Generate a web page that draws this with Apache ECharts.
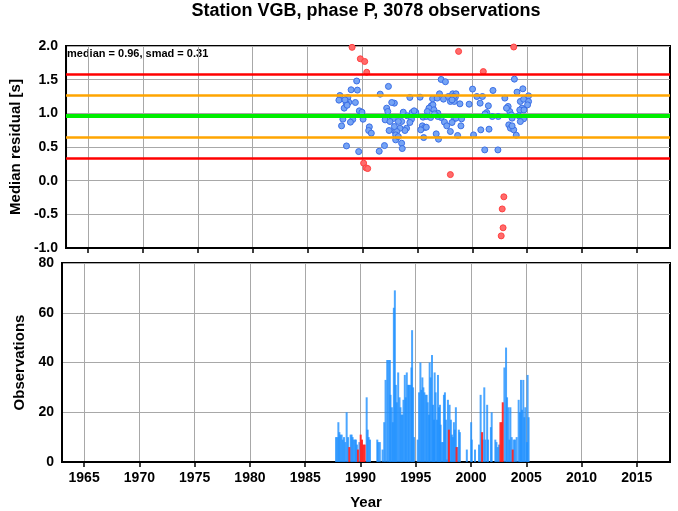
<!DOCTYPE html>
<html><head><meta charset="utf-8">
<script src="https://cdn.jsdelivr.net/npm/echarts@6/dist/echarts.min.js"></script>
<style>html,body{margin:0;padding:0;background:#fff}#c{width:678px;height:511px}</style>
</head><body><div id="c"></div><script>
const chartTitle = 'Station VGB, phase P, 3078 observations';
const median = 0.96;
const smad = 0.31;
const yearTicks = [1965, 1970, 1975, 1980, 1985, 1990, 1995, 2000, 2005, 2010, 2015];
const residualTicks = [-1.0, -0.5, 0.0, 0.5, 1.0, 1.5, 2.0];
const obsTicks = [0, 20, 40, 60, 80];

// [year, median residual]
const residualPoints = [
 [1989.05,1.98],[1989.80,1.81],[1990.20,1.77],[1990.38,1.61],[1990.10,0.26],[1990.32,0.19],[1990.47,0.18],
 [1998.0,0.09],[1998.75,1.92],[2001.0,1.62],[2003.77,1.985],[2002.87,-0.24],[2002.72,-0.42],[2002.80,-0.70],[2002.63,-0.82],
 [1989.47,1.48],[1992.36,1.40],[1988.96,1.35],[1989.53,1.345],[1991.61,1.285],[1987.94,1.265],[1987.85,1.196],[1988.66,1.236],
 [1988.75,1.166],[1988.51,1.151],[1988.33,1.077],[1989.35,1.161],[1992.90,1.151],[1992.66,1.161],[1992.20,1.077],[1992.30,1.027],
 [1989.71,1.037],[1989.95,1.017],[1988.21,0.913],[1989.11,0.908],[1988.90,0.869],[1990.05,0.913],[1988.09,0.814],[1992.06,0.903],
 [1992.80,0.923],[1992.50,0.879],[1990.62,0.799],[1990.56,0.745],[1990.80,0.705],[1992.42,0.745],[1992.96,0.73],[1993.02,0.606],
 [1988.54,0.516],[1992.0,0.521],[1989.65,0.432],[1991.52,0.437],[1988.40,1.20],[1988.60,1.12],
 [1997.16,1.503],[1997.55,1.469],[1994.31,1.236],[1995.24,1.24],[1996.38,1.216],[1996.80,1.226],[1997.01,1.29],[1997.37,1.211],
 [1997.82,1.25],[1998.21,1.29],[1998.0,1.176],[1998.36,1.176],[1998.45,1.24],[1996.26,1.112],[1996.41,1.126],[1996.05,1.077],
 [1996.50,1.052],[1993.71,1.017],[1994.07,0.963],[1994.52,1.013],[1994.85,1.017],[1994.70,1.037],[1995.90,1.027],[1995.51,0.943],
 [1995.81,0.953],[1996.20,0.938],[1996.86,1.002],[1997.16,0.938],[1996.56,0.992],[1998.36,0.923],[1994.46,0.913],[1994.31,0.864],
 [1993.56,0.879],[1993.26,0.879],[1994.01,0.779],[1993.86,0.745],[1993.41,0.779],[1993.11,0.73],[1993.02,0.68],[1993.26,0.655],
 [1993.56,0.556],[1993.62,0.477],[1992.90,0.804],[1995.45,0.814],[1995.66,0.789],[1995.30,0.755],[1995.81,0.794],[1995.57,0.64],
 [1996.71,0.695],[1996.92,0.616],[1997.46,0.869],[1997.67,0.814],[1998.0,0.73],[1996.86,0.953],
 [2000.02,1.36],[2001.88,1.34],[2003.83,1.508],[1998.51,1.29],[1998.30,1.25],[1998.15,1.2],[1998.87,1.141],[1999.71,1.136],
 [2000.41,1.25],[2000.92,1.25],[2000.71,1.151],[2001.46,1.112],[2002.96,1.226],[2003.26,1.102],[2003.41,1.027],[2003.11,1.077],
 [2001.31,1.012],[2001.16,0.992],[2001.82,0.953],[2002.36,0.953],[2003.56,0.977],[2003.62,0.928],[1998.51,0.928],[1999.02,0.918],
 [1998.96,0.814],[1998.15,0.864],[2000.77,0.755],[2001.52,0.765],[2000.11,0.68],[1998.66,0.671],[2003.32,0.829],[2003.47,0.779],
 [2003.77,0.755],[2003.62,0.814],[2001.13,0.457],[2002.33,0.457],
 [2004.60,1.364],[2004.07,1.315],[2005.12,1.26],[2004.37,1.176],[2004.67,1.21],[2005.12,1.176],[2005.03,1.126],[2004.52,1.077],
 [2004.32,1.05],[2004.70,1.05],[2004.23,0.963],[2004.67,0.918],[2004.37,0.878],[2004.0,0.675]
];

// [year, observations] normal bins
const obsNormal = [
 [1987.79,10],[1987.91,10],[1988.0,16],[1988.09,12],[1988.18,11],[1988.30,11],[1988.39,9],[1988.51,10],[1988.63,8],[1988.75,20],
 [1988.87,10],[1989.11,11],[1989.20,11],[1989.29,10],[1989.38,9],[1989.50,9],[1989.59,9],[1989.68,7],[1989.90,8],[1990.56,26],
 [1990.65,13],[1990.74,10],[1990.86,9],[1991.52,9],[1991.60,8],[1991.75,8],[1992.0,5],[1992.15,16],[1992.27,33],[1992.42,41],
 [1992.54,41],[1992.66,41],[1992.72,27],[1992.84,22],[1992.93,16],[1993.02,62],[1993.11,69],[1993.20,31],[1993.29,24],[1993.41,36],
 [1993.53,26],[1993.62,22],[1993.71,19],[1993.80,19],[1993.89,25],[1994.01,35],[1994.10,26],[1994.19,36],[1994.31,31],[1994.40,31],
 [1994.52,31],[1994.61,38],[1994.67,53],[1994.76,30],[1994.85,10],[1995.18,9],[1995.30,28],[1995.42,40],[1995.51,29],[1995.60,34],
 [1995.69,30],[1995.78,28],[1995.90,27],[1995.99,27],[1996.08,24],[1996.20,19],[1996.26,40],[1996.35,34],[1996.47,43],[1996.56,23],
 [1996.65,17],[1996.71,36],[1996.80,28],[1996.92,17],[1997.01,35],[1997.10,22],[1997.19,23],[1997.25,15],[1997.34,8],[1997.46,8],
 [1997.55,27],[1997.64,28],[1997.73,17],[1997.82,1],[1997.91,25],[1998.06,23],[1998.18,17],[1998.27,11],[1998.36,10],[1998.45,16],
 [1998.54,13],[1998.63,22],[1998.78,6],[1998.90,13],[1998.99,12],[1999.62,5],[2000.01,16],[2000.07,9],[2000.36,5],[2000.72,7],
 [2000.87,27],[2001.06,9],[2001.20,30],[2001.30,9],[2001.46,23],[2001.54,9],[2001.80,14],[2001.87,20],[2002.20,9],[2002.30,8],
 [2002.42,6],[2002.54,7],[2003.02,38],[2003.17,46],[2003.26,26],[2003.38,22],[2003.47,9],[2003.56,22],[2003.68,10],[2003.86,9],
 [2003.98,9],[2004.13,10],[2004.31,25],[2004.43,20],[2004.52,33],[2004.61,21],[2004.73,33],[2004.82,18],[2004.91,22],[2005.06,8],
 [2005.12,35],[2005.21,18]
];
// [year, observations] outlier bins
const obsOutlier = [
 [1988.99,6],[1989.77,5],[1990.02,11],[1990.14,9],[1990.26,7],[1990.38,7],[1998.0,13],[1998.69,6],[2001.0,12],
 [2002.66,16],[2002.78,16],[2002.87,24],[2003.77,5]
];

const FONT = '"Liberation Sans", Helvetica, Arial, sans-serif';
const lo2 = +(median - 2*smad).toFixed(2), hi2 = +(median + 2*smad).toFixed(2);
const lo1 = +(median - smad).toFixed(2), hi1 = +(median + smad).toFixed(2);
const bluePts = residualPoints.filter(p => p[1] >= lo2 && p[1] <= hi2);
const redPts = residualPoints.filter(p => p[1] < lo2 || p[1] > hi2);

const XMIN = 1963, XMAX = 2018;
const GL = 62, GW = 608;
function xAxis(grid, labels) {
  return {
    type: 'value', gridIndex: grid, min: XMIN, max: XMAX,
    name: labels ? 'Year' : '', nameLocation: 'middle', nameGap: 33,
    nameTextStyle: {fontFamily: FONT, fontWeight: 'bold', fontSize: 15, color: '#000'},
    axisLine: {show: true, onZero: false, lineStyle: {color: '#000', width: 2}},
    axisTick: {show: true, customValues: yearTicks, length: 5, lineStyle: {color: '#000', width: 1.5}},
    axisLabel: {show: labels, customValues: yearTicks, formatter: v => String(v), margin: 9,
                fontFamily: FONT, fontWeight: 'bold', fontSize: 14, color: '#000'},
    splitLine: {show: true, lineStyle: {color: '#a8a8a8', width: 1}}
  };
}
function yAxis(grid, min, max, interval, name, fmt, gap) {
  return {
    type: 'value', gridIndex: grid, min, max, interval,
    name, nameLocation: 'middle', nameGap: gap,
    nameTextStyle: {fontFamily: FONT, fontWeight: 'bold', fontSize: 15, color: '#000'},
    axisLine: {show: true, onZero: false, lineStyle: {color: '#000', width: 2}},
    axisTick: {show: false},
    axisLabel: {formatter: fmt, margin: 8, fontFamily: FONT, fontWeight: 'bold', fontSize: 14, color: '#000'},
    splitLine: {show: true, lineStyle: {color: '#a8a8a8', width: 1}}
  };
}

const chart = echarts.init(document.getElementById('c'), null, {renderer: 'canvas'});
chart.setOption({
  animation: false,
  backgroundColor: '#fff',
  grid: [
    {left: GL, top: 46, width: GW, height: 202, show: true, borderColor: '#000', borderWidth: 2, backgroundColor: 'transparent'},
    {left: GL, top: 263, width: GW, height: 200, show: true, borderColor: '#000', borderWidth: 2, backgroundColor: 'transparent'}
  ],
  xAxis: [xAxis(0, false), xAxis(1, true)],
  yAxis: [
    yAxis(0, residualTicks[0], residualTicks[residualTicks.length-1], 0.5, 'Median residual [s]', v => v.toFixed(1), 38),
    yAxis(1, obsTicks[0], obsTicks[obsTicks.length-1], 20, 'Observations', v => String(v), 34)
  ],
  graphic: [
    {type: 'text', x: GL + GW/2, y: 2, style: {text: chartTitle, align: 'center', fontFamily: FONT, fontWeight: 'bold', fontSize: 18, fill: '#000'}},
    {type: 'text', x: 67, y: 48, style: {text: 'median = ' + median.toFixed(2) + ', smad = ' + smad.toFixed(2), fontFamily: FONT, fontWeight: 'bold', fontSize: 11, fill: '#000'}}
  ],
  series: [
    {
      type: 'scatter', xAxisIndex: 0, yAxisIndex: 0, data: [], z: 1, silent: true,
      markLine: {
        silent: true, symbol: ['none', 'none'], label: {show: false},
        data: [
          {yAxis: hi2, lineStyle: {color: '#ff0000', width: 2.5, type: 'solid'}},
          {yAxis: lo2, lineStyle: {color: '#ff0000', width: 2.5, type: 'solid'}},
          {yAxis: hi1, lineStyle: {color: '#ffa500', width: 2.5, type: 'solid'}},
          {yAxis: lo1, lineStyle: {color: '#ffa500', width: 2.5, type: 'solid'}},
          {yAxis: median, lineStyle: {color: '#00ee00', width: 4, type: 'solid'}}
        ]
      }
    },
    {type: 'scatter', xAxisIndex: 0, yAxisIndex: 0, z: 3, symbolSize: 6, data: bluePts,
     itemStyle: {color: '#76a4f4', borderColor: '#3b6fe6', borderWidth: 1, opacity: 1}},
    {type: 'scatter', xAxisIndex: 0, yAxisIndex: 0, z: 3, symbolSize: 6, data: redPts,
     itemStyle: {color: '#ff6b6b', borderColor: '#ff4040', borderWidth: 1, opacity: 1}},
    {type: 'bar', xAxisIndex: 1, yAxisIndex: 1, barWidth: 2, barGap: '-100%', data: obsNormal,
     itemStyle: {color: 'rgba(30,144,255,0.8)'}},
    {type: 'bar', xAxisIndex: 1, yAxisIndex: 1, barWidth: 2, barGap: '-100%', data: obsOutlier, z: 3,
     itemStyle: {color: 'rgba(255,30,30,0.9)'}}
  ]
});
</script></body></html>
